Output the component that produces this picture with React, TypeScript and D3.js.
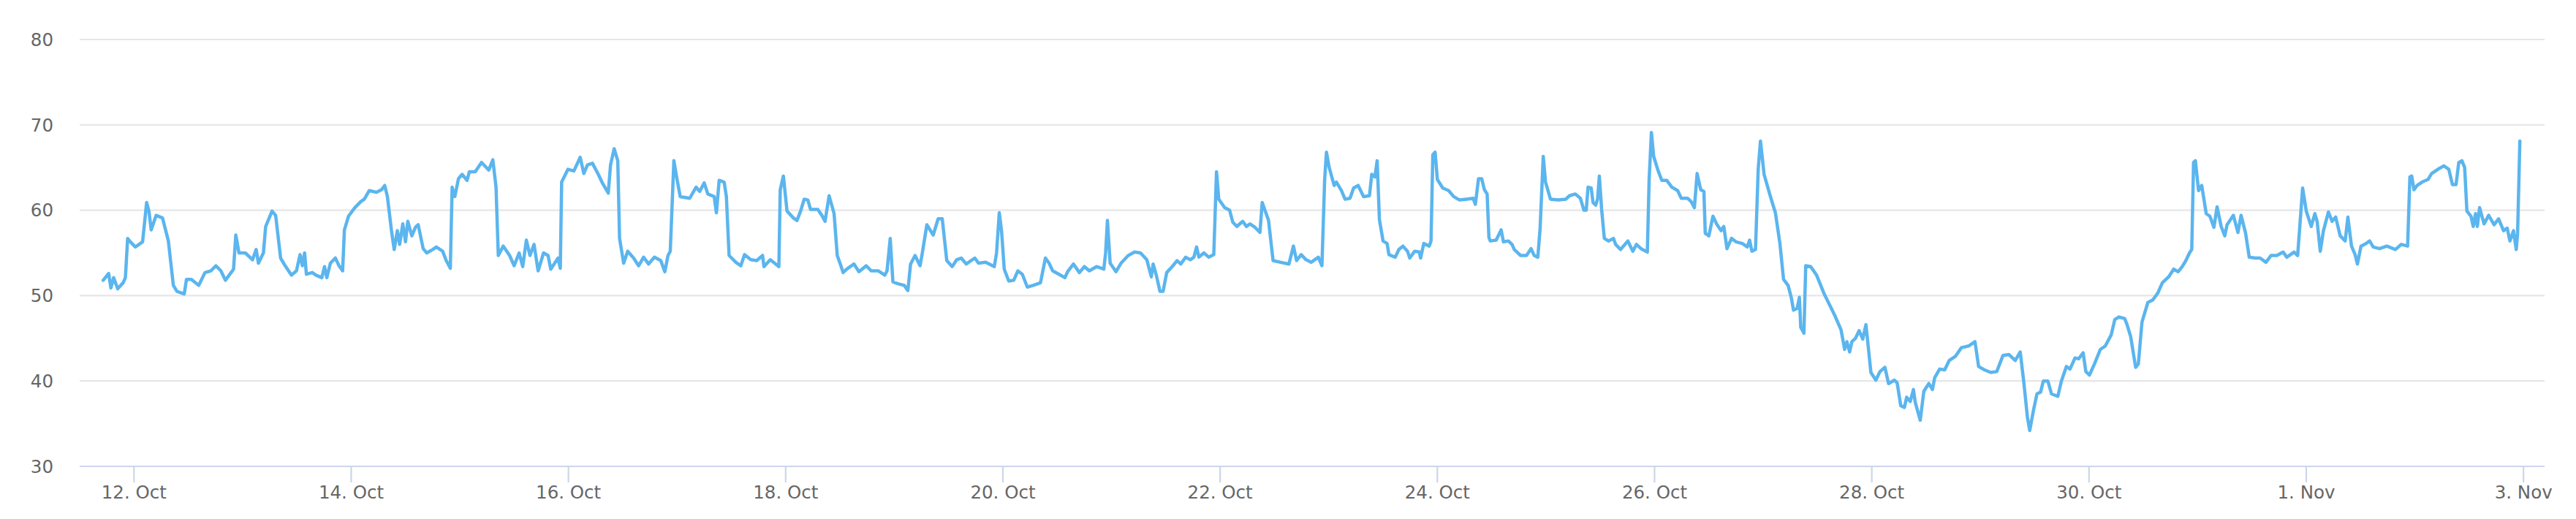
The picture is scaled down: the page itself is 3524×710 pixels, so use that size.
import React, { useMemo } from 'react';
import * as d3 from 'd3';

// readings as [hours after 12 Oct 00:00, value]
const oct11to14: [number, number][] = [
  [-6.8, 51.8], [-5.6, 52.6], [-5.1, 50.9], [-4.5, 52.1], [-3.6, 50.8], [-2.4, 51.5], [-1.9, 52.1], [-1.4, 56.7],
  [-0.8, 56.3], [0.3, 55.7], [1.9, 56.3], [2.8, 60.9], [3.3, 59.9], [3.8, 57.7], [4.9, 59.4], [6.3, 59.1],
  [7.6, 56.4], [8.7, 51.2], [9.5, 50.5], [11.1, 50.2], [11.6, 51.9], [12.7, 51.9], [14.3, 51.2], [15.7, 52.7],
  [17.0, 52.9], [18.1, 53.5], [19.2, 52.9], [20.2, 51.8], [21.6, 52.8], [22.0, 53.1], [22.5, 57.1], [23.2, 55.0],
  [24.6, 55.0], [26.2, 54.2], [27.0, 55.4], [27.5, 53.8], [28.6, 55.0], [29.1, 58.1], [30.5, 59.9], [31.3, 59.4],
  [32.4, 54.4], [33.4, 53.5], [34.8, 52.4], [35.9, 52.9], [36.7, 54.8], [37.2, 53.5], [37.7, 55.0], [38.1, 52.5],
  [39.4, 52.7], [40.2, 52.4], [41.5, 52.1], [42.1, 53.4], [42.6, 52.1], [43.4, 53.8], [44.5, 54.4], [45.3, 53.5],
  [46.1, 52.9], [46.5, 57.7], [47.4, 59.3], [48.8, 60.3], [50.1, 61.0], [50.9, 61.3], [52.0, 62.3], [53.6, 62.1],
  [54.7, 62.4], [55.4, 62.9], [56.0, 61.6], [56.9, 57.6], [57.5, 55.4], [58.2, 57.6], [58.7, 56.0], [59.4, 58.4],
  [60.0, 56.3], [60.5, 58.7], [61.4, 57.0], [62.2, 58.0], [62.8, 58.3], [63.9, 55.5], [64.7, 55.0], [66.0, 55.4],
  [66.8, 55.7], [68.2, 55.2], [69.0, 54.1],
];

const oct15to18: [number, number][] = [
  [69.9, 53.2], [70.3, 62.7], [70.9, 61.6], [71.7, 63.7], [72.5, 64.2], [73.6, 63.5], [74.1, 64.5], [75.4, 64.5],
  [76.8, 65.6], [78.4, 64.7], [79.3, 65.9], [80.0, 62.7], [80.5, 54.7], [81.6, 55.8], [83.0, 54.7], [84.0, 53.5],
  [85.1, 55.0], [85.9, 53.4], [86.7, 56.5], [87.5, 54.7], [88.4, 56.0], [89.3, 52.9], [90.5, 55.0], [91.5, 54.7],
  [92.1, 53.1], [93.7, 54.4], [94.2, 53.2], [94.5, 63.3], [95.9, 64.8], [97.2, 64.6], [98.6, 66.2], [99.4, 64.3],
  [100.2, 65.3], [101.3, 65.5], [102.6, 64.2], [103.4, 63.3], [104.8, 62.0], [105.3, 65.3], [106.1, 67.2], [106.9, 65.8],
  [107.3, 56.7], [108.2, 53.8], [109.1, 55.2], [110.4, 54.4], [111.5, 53.5], [112.6, 54.5], [113.7, 53.7], [115.0, 54.5],
  [116.4, 54.1], [117.3, 52.8], [118.0, 54.7], [118.5, 55.2], [119.3, 65.8], [119.9, 63.9], [120.7, 61.6], [122.8, 61.4],
  [124.2, 62.7], [125.0, 62.2], [126.0, 63.2], [126.8, 61.9], [128.2, 61.6], [128.7, 59.7], [129.3, 63.5], [130.4, 63.3],
  [130.9, 61.6], [131.5, 54.7], [133.0, 53.9], [134.1, 53.5], [134.9, 54.8], [136.3, 54.2], [137.6, 54.1], [138.9, 54.7],
  [139.2, 53.4], [140.6, 54.2], [142.5, 53.4], [142.8, 62.4], [143.5, 64.0], [144.3, 59.9],
];

const oct18to21: [number, number][] = [
  [145.7, 59.1], [146.5, 58.8], [147.3, 59.9], [148.1, 61.3], [148.9, 61.2], [149.5, 60.1], [151.1, 60.1], [152.0, 59.4],
  [152.7, 58.7], [153.6, 61.7], [154.7, 59.6], [155.4, 54.7], [156.2, 53.5], [156.7, 52.7], [157.5, 53.1], [159.1, 53.7],
  [160.2, 52.8], [161.8, 53.5], [162.9, 52.9], [164.5, 52.9], [165.9, 52.4], [166.4, 52.9], [167.1, 56.7], [167.7, 51.6],
  [168.8, 51.4], [170.2, 51.2], [171.0, 50.6], [171.6, 53.7], [172.6, 54.7], [173.7, 53.5], [174.2, 55.0], [175.2, 58.3],
  [176.6, 57.1], [177.7, 59.0], [178.6, 59.0], [179.6, 54.1], [180.8, 53.4], [181.8, 54.2], [182.8, 54.4], [183.9, 53.7],
  [185.8, 54.4], [186.6, 53.8], [188.2, 53.9], [190.1, 53.4], [190.6, 55.0], [191.2, 59.7], [191.7, 57.6], [192.3, 53.1],
  [193.3, 51.7], [194.4, 51.8], [195.3, 52.9], [196.3, 52.5], [197.4, 51.0], [198.7, 51.2], [200.3, 51.5], [201.4, 54.4],
  [202.2, 53.8], [203.0, 52.9], [204.4, 52.5], [205.7, 52.1], [206.3, 52.8], [207.6, 53.7], [208.9, 52.7], [210.0, 53.4],
  [211.1, 52.9], [212.7, 53.4], [214.3, 53.1], [214.7, 55.0], [215.1, 58.8], [215.7, 53.8], [217.0, 52.8], [218.1, 53.8],
  [219.7, 54.7], [221.1, 55.1],
];

const oct21to24: [number, number][] = [
  [222.4, 55.0], [223.8, 54.2], [224.8, 52.2], [225.2, 53.7], [225.9, 52.4], [226.7, 50.5], [227.4, 50.5], [228.2, 52.7],
  [229.4, 53.4], [230.5, 54.1], [231.3, 53.7], [232.4, 54.5], [233.4, 54.2], [234.2, 54.5], [234.8, 55.7], [235.3, 54.5],
  [236.4, 55.0], [237.5, 54.5], [238.6, 54.8], [239.2, 64.5], [239.7, 61.3], [241.0, 60.3], [242.1, 60.0], [242.8, 58.6],
  [243.7, 58.1], [245.0, 58.7], [245.8, 58.1], [246.6, 58.4], [247.7, 58.0], [248.8, 57.4], [249.3, 60.9], [250.7, 58.8],
  [251.7, 54.1], [253.4, 53.9], [255.2, 53.7], [256.2, 55.8], [256.9, 54.1], [257.9, 54.8], [259.0, 54.2], [260.1, 53.9],
  [261.7, 54.5], [262.5, 53.5], [263.1, 63.6], [263.5, 66.8], [264.1, 65.0], [265.2, 62.9], [265.7, 63.3], [266.8, 62.3],
  [267.6, 61.3], [268.7, 61.4], [269.5, 62.6], [270.5, 62.9], [271.7, 61.6], [273.0, 61.7], [273.5, 64.2], [274.2, 63.9],
  [274.7, 65.8], [275.2, 58.9], [276.0, 56.4], [276.9, 56.1], [277.3, 54.8], [278.7, 54.5], [279.5, 55.4], [280.4, 55.8],
  [281.4, 55.2], [281.9, 54.4], [283.0, 55.2], [284.0, 55.1], [284.3, 54.4], [285.0, 56.1], [286.2, 55.8], [286.6, 56.4],
  [287.0, 66.5], [287.5, 66.8], [288.0, 63.6], [289.2, 62.6], [290.5, 62.3], [291.6, 61.6], [292.9, 61.2], [294.5, 61.3],
  [295.9, 61.4], [296.4, 60.7], [297.1, 63.7], [297.8, 63.7], [298.4, 62.4], [299.0, 61.9],
];

const oct24to27: [number, number][] = [
  [299.4, 56.8], [299.7, 56.4], [301.0, 56.5], [302.1, 57.7], [302.6, 56.3], [303.7, 56.4], [304.5, 56.0], [305.0, 55.4],
  [306.4, 54.7], [307.7, 54.7], [308.7, 55.5], [309.4, 54.7], [310.2, 54.5], [310.7, 57.8], [311.4, 66.3], [311.9, 63.3],
  [313.0, 61.3], [314.7, 61.2], [316.4, 61.3], [317.2, 61.7], [318.5, 61.9], [319.6, 61.4], [320.4, 60.0], [320.9, 60.0],
  [321.3, 62.7], [322.0, 62.6], [322.4, 60.9], [323.0, 60.6], [323.4, 61.3], [323.8, 64.0], [324.3, 60.1], [324.9, 56.7],
  [325.8, 56.4], [326.9, 56.7], [327.4, 56.0], [328.5, 55.4], [330.1, 56.4], [331.2, 55.2], [332.0, 56.0], [333.0, 55.5],
  [334.4, 55.1], [334.8, 63.6], [335.3, 69.1], [335.8, 66.3], [336.8, 64.6], [337.6, 63.5], [338.7, 63.5], [339.8, 62.7],
  [341.1, 62.3], [341.9, 61.4], [343.3, 61.4], [344.1, 61.0], [344.8, 60.3], [345.4, 64.3], [346.2, 62.4], [346.9, 62.2],
  [347.2, 57.3], [348.0, 57.0], [348.9, 59.3], [349.7, 58.4], [350.7, 57.6], [351.3, 58.1], [352.0, 55.5], [353.0, 56.7],
  [354.0, 56.3], [355.4, 56.1], [356.5, 55.7], [357.0, 56.5], [357.5, 55.2], [358.3, 55.4], [358.9, 64.8], [359.4, 68.1],
  [360.2, 64.2], [361.6, 61.6], [362.7, 59.7], [363.7, 56.1], [364.5, 51.9], [365.5, 51.2], [366.2, 49.8], [366.7, 48.3],
  [367.5, 48.5], [368.0, 49.8], [368.3, 46.3], [369.0, 45.6], [369.4, 53.5], [370.5, 53.4], [371.8, 52.4], [373.4, 50.3],
  [375.8, 47.7],
];

const oct27to30: [number, number][] = [
  [377.2, 46.0], [378.0, 43.7], [378.5, 44.6], [379.1, 43.4], [379.6, 44.6], [380.4, 45.0], [381.2, 45.9], [382.0, 44.9],
  [382.7, 46.6], [383.1, 44.6], [383.8, 41.0], [384.9, 40.1], [385.8, 41.1], [386.9, 41.6], [387.7, 39.7], [389.0, 40.1],
  [389.6, 39.8], [390.4, 37.1], [391.2, 36.9], [391.7, 38.1], [392.5, 37.6], [393.2, 39.0], [393.6, 37.5], [394.7, 35.4],
  [395.5, 38.8], [396.6, 39.7], [397.4, 39.0], [397.9, 40.4], [399.0, 41.4], [400.1, 41.3], [401.1, 42.4], [402.5, 42.9],
  [403.8, 43.9], [405.4, 44.1], [406.8, 44.6], [407.6, 41.7], [408.9, 41.3], [410.3, 41.0], [411.6, 41.1], [413.0, 43.0],
  [414.3, 43.1], [415.7, 42.4], [416.8, 43.4], [417.6, 39.8], [418.4, 35.7], [418.9, 34.2], [419.7, 36.5], [420.5, 38.5],
  [421.3, 38.7], [421.9, 40.0], [422.9, 40.0], [423.7, 38.5], [425.1, 38.2], [425.9, 40.0], [427.0, 41.7], [427.8, 41.4],
  [428.9, 42.7], [429.7, 42.6], [430.7, 43.3], [431.3, 41.1], [432.1, 40.7], [433.2, 42.0], [434.5, 43.7], [435.6, 44.1],
  [436.9, 45.4], [437.7, 47.2], [438.6, 47.5], [439.9, 47.3], [440.4, 46.6], [441.2, 45.2], [442.3, 41.6], [442.9, 42.0],
  [443.7, 46.9], [445.0, 49.2], [446.1, 49.5], [447.2, 50.3], [448.2, 51.5], [449.6, 52.2], [450.7, 53.1], [451.7, 52.8],
  [452.6, 53.4],
];

const oct31toNov2: [number, number][] = [
  [453.4, 54.1], [454.2, 55.0], [454.7, 55.4], [455.1, 65.6], [455.5, 65.8], [456.2, 62.3], [456.9, 62.9], [457.9, 59.6],
  [458.7, 59.3], [459.6, 58.0], [460.3, 60.4], [461.2, 58.1], [462.0, 57.0], [462.5, 58.3], [463.9, 59.4], [464.9, 57.4],
  [465.6, 59.4], [466.6, 57.3], [467.4, 54.5], [468.7, 54.4], [469.8, 54.4], [471.1, 53.9], [472.2, 54.7], [473.5, 54.7],
  [474.9, 55.1], [475.7, 54.5], [477.3, 55.1], [478.1, 54.7], [478.7, 59.0], [479.2, 62.6], [480.0, 59.9], [481.1, 58.1],
  [481.9, 59.6], [482.4, 58.7], [483.1, 55.2], [483.8, 57.6], [484.9, 59.8], [485.7, 58.7], [486.5, 59.2], [487.5, 57.0],
  [488.6, 56.4], [489.2, 59.2], [490.0, 55.8], [490.8, 54.8], [491.3, 53.7], [492.1, 55.8], [493.2, 56.1], [494.0, 56.4],
  [494.8, 55.7], [496.2, 55.5], [497.8, 55.8], [499.7, 55.4], [501.0, 56.0], [502.4, 55.8], [502.9, 63.9], [503.3, 64.0],
  [503.8, 62.4], [504.5, 62.9], [505.6, 63.3], [506.9, 63.6], [507.7, 64.3], [509.1, 64.8], [510.4, 65.2], [511.5, 64.8],
  [512.3, 63.0], [513.1, 63.0], [513.7, 65.6], [514.4, 65.8], [515.0, 65.0], [515.5, 59.9], [516.4, 59.3], [516.9, 58.1],
  [517.4, 59.6], [517.8, 58.1], [518.3, 60.3], [519.3, 58.4], [520.3, 59.4], [521.5, 58.3], [522.5, 59.0], [523.6, 57.6],
  [524.4, 57.9], [525.0, 56.4], [525.8, 57.6], [526.4, 55.4], [526.7, 57.3], [527.2, 68.1],
];

const yTicks = [30, 40, 50, 60, 70, 80];
// x ticks, days after 12 Oct
const xTickDays = [0, 2, 4, 6, 8, 10, 12, 14, 16, 18, 20, 22];

const BASE = Date.UTC(2019, 9, 12);
const HOUR = 3600 * 1000;

const W = 3524;
const H = 710;
const plot = { left: 109, right: 3481, top: 54, bottom: 638 };
const font = '"DejaVu Sans", Verdana, sans-serif';

type Pt = { t: Date; v: number };

export default function App() {
  const points: Pt[] = useMemo(
    () =>
      [...oct11to14, ...oct15to18, ...oct18to21, ...oct21to24, ...oct24to27, ...oct27to30, ...oct31toNov2].map(
        ([h, v]) => ({ t: new Date(BASE + h * HOUR), v })
      ),
    []
  );

  const x = d3
    .scaleUtc()
    .domain([new Date(BASE - 12 * HOUR), new Date(BASE + 532.66 * HOUR)])
    .range([plot.left, plot.right]);
  const y = d3.scaleLinear().domain([30, 80]).range([plot.bottom, plot.top]);

  const line = d3
    .line<Pt>()
    .x(d => x(d.t))
    .y(d => y(d.v));

  const fmt = d3.utcFormat('%-d. %b');
  const xTicks = xTickDays.map(d => new Date(BASE + d * 24 * HOUR));

  return (
    <svg
      width={W}
      height={H}
      style={{ position: 'absolute', left: 0, top: 0, background: '#fff' }}
    >
      {/* grid */}
      {yTicks.filter(t => t !== 30).map(t => (
        <line key={t} x1={plot.left} x2={plot.right} y1={y(t)} y2={y(t)} stroke="#e6e6e6" strokeWidth={2.2} />
      ))}
      {/* y labels */}
      {yTicks.map(t => (
        <text
          key={t}
          x={73}
          y={y(t)}
          dy="0.36em"
          textAnchor="end"
          fontFamily={font}
          fontSize={24.5}
          fill="#666666"
        >
          {t}
        </text>
      ))}
      {/* x axis */}
      <line x1={plot.left} x2={plot.right} y1={plot.bottom} y2={plot.bottom} stroke="#ccd6eb" strokeWidth={2.2} />
      {xTicks.map(d => (
        <g key={+d} transform={`translate(${x(d)},0)`}>
          <line y1={plot.bottom} y2={plot.bottom + 22} stroke="#ccd6eb" strokeWidth={2.2} />
          <text y={682} textAnchor="middle" fontFamily={font} fontSize={24.5} fill="#666666">
            {fmt(d)}
          </text>
        </g>
      ))}
      {/* series */}
      <path
        d={line(points) ?? ''}
        fill="none"
        stroke="#5bb5ee"
        strokeWidth={4.5}
        strokeLinejoin="round"
        strokeLinecap="round"
      />
    </svg>
  );
}
